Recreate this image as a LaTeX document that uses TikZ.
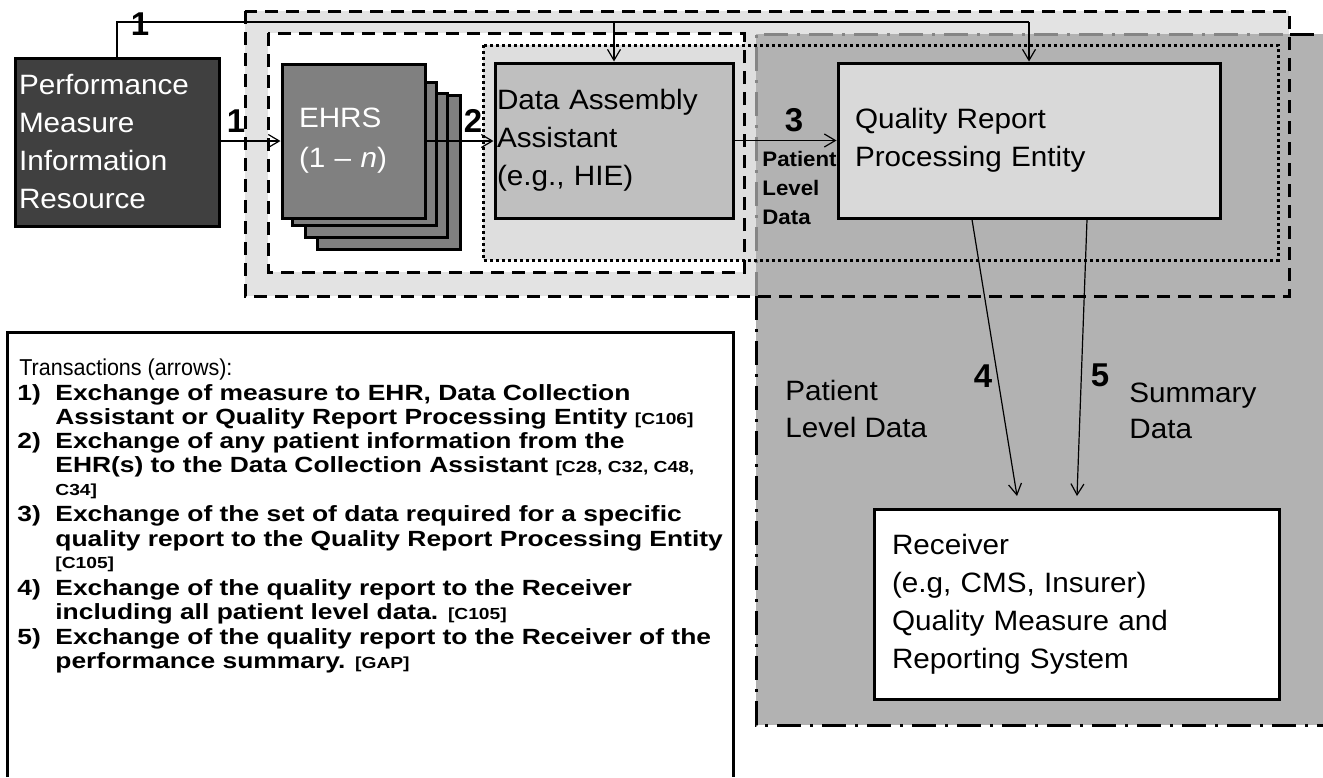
\documentclass[tikz,border=0pt]{standalone}
\usepackage{fontspec}
\setmainfont{Liberation Sans}
\newfontfamily\labfont[FakeStretch=1.06]{Liberation Sans}
\newfontfamily\lgfont[FakeStretch=1.2]{Liberation Sans}
\newfontfamily\ttlfont[FakeStretch=0.935]{Liberation Sans}
\usetikzlibrary{arrows.meta,calc}
\definecolor{lightbg}{gray}{0.89}
\definecolor{dotbg}{gray}{0.87}
\definecolor{darkbg}{gray}{0.70}
\definecolor{daafill}{gray}{0.75}
\definecolor{qrfill}{gray}{0.85}
\definecolor{pmfill}{gray}{0.25}
\definecolor{ehfill}{gray}{0.50}
\definecolor{dashgray}{gray}{0.52}
\tikzset{
 boxst/.style={draw=black, line width=1.5pt, rectangle, inner ysep=0pt},
 lab/.style={font=\labfont\fontsize{14pt}{19pt}\selectfont},
 arr/.style={line width=0.6pt, -{Straight Barb[length=5.5pt,width=6.5pt]}},
 num/.style={font=\bfseries\fontsize{16.5pt}{17pt}\selectfont, inner sep=0pt},
 lgitem/.style={font=\lgfont\bfseries\fontsize{11pt}{12pt}\selectfont, anchor=base west, inner sep=0pt},
 baselab/.style={lab, anchor=base west, inner sep=0pt},
 smallbold/.style={font=\labfont\bfseries\fontsize{10.5pt}{14.5pt}\selectfont, anchor=base west, inner sep=0pt},
 dashedbox/.style={line width=1.5pt, dash pattern=on 6.5pt off 4pt},
 dottedbox/.style={line width=1.5pt, dash pattern=on 1.4pt off 1.6pt},
 dashdot/.style={line width=1.5pt, dash pattern=on 12pt off 4.5pt on 1.5pt off 4.5pt},
}
\newcommand{\tg}[1]{{\fontsize{8pt}{9pt}\selectfont #1}}
\begin{document}
\begin{tikzpicture}[x=0.5pt,y=-0.5pt]
\useasboundingbox (0,0) rectangle (1323,777);
\fill[white] (0,0) rectangle (1323,777);
% region fills
\fill[lightbg] (245,11) rectangle (1289,296);
\fill[white] (268,33) rectangle (744,272);
\fill[dotbg] (483,45) rectangle (1278,260);
\fill[darkbg] (756,34) rectangle (1323,725);
% region borders
\draw[dashdot, dashgray] (756,296) -- (756,34) -- (1290,34);
\draw[dashdot] (1290,34) -- (1323,34);
\draw[dashdot] (756,296) -- (756,725) -- (1323,725);
\draw[dashedbox] (245,11) rectangle (1289,296);
\draw[dashedbox] (268,33) rectangle (744,272);
\draw[dottedbox] (483,45) rectangle (1278,260);
% legend frame
\draw[line width=1.5pt] (7,777) -- (7,332) -- (733,332) -- (733,777);

% boxes
\node[boxst, fill=pmfill, minimum width=102pt, minimum height=84pt, text width=98pt, inner xsep=2pt, align=left, lab, text=white] (pmir) at (117,142) {Performance\\Measure\\Information\\Resource};
\node[boxst, fill=ehfill, minimum width=71.5pt, minimum height=77pt] (e4) at (388.5,172) {};
\node[boxst, fill=ehfill, minimum width=71pt, minimum height=72pt] (e3) at (376,165) {};
\node[boxst, fill=ehfill, minimum width=72pt, minimum height=71.5pt] (e2) at (364,153.5) {};
\node[boxst, fill=ehfill, minimum width=71.5pt, minimum height=77pt, text width=54.5pt, inner xsep=8.5pt, align=left, text=white, font=\labfont\fontsize{14pt}{20pt}\selectfont] (ehrs) at (353.5,141) {EHRS\\(1 – \textit{n})};
\node[boxst, fill=daafill, minimum width=119pt, minimum height=77.5pt, text width=117pt, inner xsep=1pt, align=left, lab] (daa) at (614,140.5) {Data Assembly\\Assistant\\(e.g., HIE)};
\node[boxst, fill=qrfill, minimum width=191pt, minimum height=77.5pt, text width=174pt, inner xsep=8.5pt, align=left, lab] (qrpe) at (1029,140.5) {Quality Report\\Processing Entity};
\node[boxst, fill=white, minimum width=202.5pt, minimum height=95pt, text width=184.5pt, inner xsep=9pt, align=left, lab] (rcv) at (1076.5,604) {Receiver\\(e.g, CMS, Insurer)\\Quality Measure and\\Reporting System};

% connectors
\coordinate (t1) at (117,22);
\coordinate (t2) at (614,22);
\coordinate (t3) at (1029,22);
\draw[line width=0.6pt] (pmir.north) -- (t1) -- (t3);
\draw[arr] (t3) -- (qrpe.north);
\draw[arr] (t2) -- (daa.north);
\draw[arr] (pmir.east |- ehrs.west) -- (ehrs.west);
\draw[arr] (ehrs.east) -- (ehrs.east -| daa.west);
\draw[arr] (daa.east) -- (daa.east -| qrpe.west);
\draw[arr] ($(qrpe.south)+(-57,0)$) -- ($(rcv.north)+(-59.5,-11.5)$);
\draw[arr] ($(qrpe.south)+(58,0)$) -- ($(rcv.north)+(0.5,-11.5)$);

% numbers
\node[num] (n1a) at (140,24.5) {1};
\node[num] (n1b) at (236,121) {1};
\node[num] (n2) at (473,121) {2};
\node[num] (n3) at (794,120) {3};
\node[num] (n4) at (983,376) {4};
\node[num] (n5) at (1100,375) {5};

% labels
\node[smallbold] (pd1) at (762,166.5) {Patient};
\node[smallbold] (pd2) at (762,195.5) {Level};
\node[smallbold] (pd3) at (762,224.5) {Data};
\node[baselab] (pl1) at (785,400) {Patient};
\node[baselab] (pl2) at (785,437) {Level Data};
\node[baselab] (sd1) at (1129,402) {Summary};
\node[baselab] (sd2) at (1129,438) {Data};

% legend
\node[font=\ttlfont\fontsize{11.5pt}{12pt}\selectfont, anchor=base west, inner sep=0pt] (lt) at (19,375) {Transactions (arrows):};
\node[lgitem] (k1) at (17,400) {1)};
\node[lgitem] (i1) at (55,400) {Exchange of measure to EHR, Data Collection};
\node[lgitem] (i1b) at (55,424) {Assistant or Quality Report Processing Entity \tg{[C106]}};
\node[lgitem] (k2) at (17,448.5) {2)};
\node[lgitem] (i2) at (55,448.5) {Exchange of any patient information from the};
\node[lgitem] (i2b) at (55,472.5) {EHR(s) to the Data Collection Assistant \tg{[C28, C32, C48,}};
\node[lgitem] (i2c) at (55,495) {\tg{C34]}};
\node[lgitem] (k3) at (17,521.5) {3)};
\node[lgitem] (i3) at (55,521.5) {Exchange of the set of data required for a specific};
\node[lgitem] (i3b) at (55,546.5) {quality report to the Quality Report Processing Entity};
\node[lgitem] (i3c) at (55,568) {\tg{[C105]}};
\node[lgitem] (k4) at (17,595.5) {4)};
\node[lgitem] (i4) at (55,595.5) {Exchange of the quality report to the Receiver};
\node[lgitem] (i4b) at (55,619.5) {including all patient level data. \tg{[C105]}};
\node[lgitem] (k5) at (17,644.5) {5)};
\node[lgitem] (i5) at (55,644.5) {Exchange of the quality report to the Receiver of the};
\node[lgitem] (i5b) at (55,668.5) {performance summary. \tg{[GAP]}};
\end{tikzpicture}
\end{document}
